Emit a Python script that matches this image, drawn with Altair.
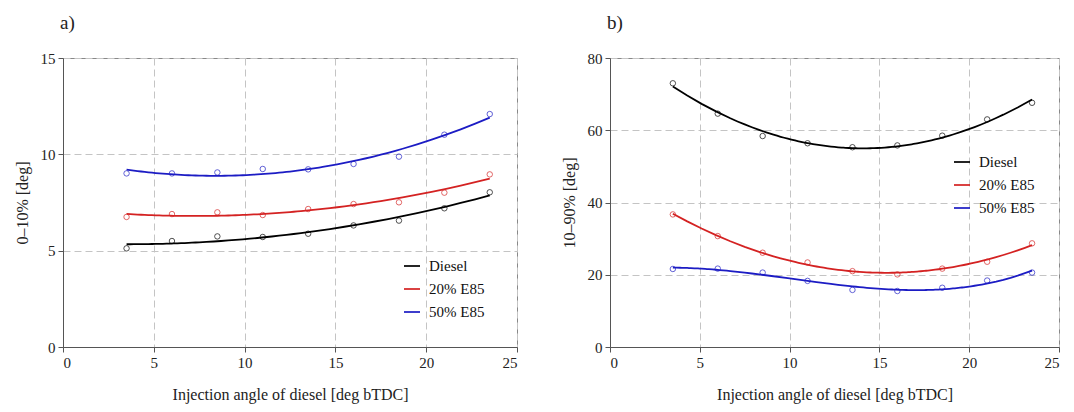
import altair as alt
import pandas as pd

x_vals = [3.5, 6, 8.5, 11, 13.5, 16, 18.5, 21, 23.5]
series_names = ["Diesel", "20% E85", "50% E85"]
series_colors = ["#000000", "#d42222", "#1c1cc4"]

a_diesel = [5.12, 5.50, 5.74, 5.71, 5.88, 6.31, 6.56, 7.20, 8.03]
a_e20 = [6.75, 6.90, 6.99, 6.85, 7.16, 7.42, 7.51, 8.01, 8.96]
a_e50 = [9.01, 9.01, 9.06, 9.24, 9.22, 9.50, 9.88, 11.02, 12.09]

b_diesel = [73.0, 64.6, 58.4, 56.4, 55.3, 55.8, 58.5, 63.0, 67.6]
b_e20 = [36.7, 30.7, 26.1, 23.4, 21.0, 20.1, 21.7, 23.6, 28.7]
b_e50 = [21.6, 21.7, 20.6, 18.3, 15.8, 15.5, 16.4, 18.4, 20.6]

x_ticks = [0, 5, 10, 15, 20, 25]
a_ticks = [0, 5, 10, 15]
b_ticks = [0, 20, 40, 60, 80]

FONT = "Liberation Serif"


def make_df(lists):
    rows = []
    for name, vals in zip(series_names, lists):
        for xv, yv in zip(x_vals, vals):
            rows.append({"x": xv, "y": yv, "series": name})
    return pd.DataFrame(rows)


def panel(lists, label, y_title, y_ticks, orders, leg_x, leg_y, w):
    df = make_df(lists)
    color_scale = alt.Scale(domain=series_names, range=series_colors)
    x_enc = alt.X(
        "x:Q",
        scale=alt.Scale(domain=[0, 25], nice=False),
        axis=alt.Axis(values=x_ticks, title="Injection angle of diesel [deg bTDC]"),
    )
    y_enc = alt.Y(
        "y:Q",
        scale=alt.Scale(domain=[y_ticks[0], y_ticks[-1]], nice=False),
        axis=alt.Axis(values=y_ticks, title=y_title),
    )
    legend = alt.Legend(
        orient="none", legendX=leg_x, legendY=leg_y, title=None,
        symbolType="stroke", symbolSize=256, symbolStrokeWidth=2,
        labelFont=FONT, labelFontSize=15, labelColor="#111",
        rowPadding=6, labelOffset=8, values=series_names,
    )
    base = alt.Chart(df)
    pts = base.mark_point(shape="circle", filled=False, size=30, strokeWidth=0.8, opacity=0.85).encode(
        x=x_enc, y=y_enc, color=alt.Color("series:N", scale=color_scale, legend=legend)
    )
    layers = [pts]
    for s, o in zip(series_names, orders):
        ln = (
            base.transform_filter(alt.datum.series == s)
            .transform_regression("x", "y", method="poly", order=o, groupby=["series"])
            .mark_line(strokeWidth=1.8)
            .encode(x=x_enc, y=y_enc, color=alt.Color("series:N", scale=color_scale, legend=legend))
        )
        layers.append(ln)
    return alt.layer(*layers).properties(
        width=w, height=289,
        title=alt.TitleParams(label, anchor="start", frame="group", font=FONT, fontSize=19,
                              fontWeight="normal", offset=18, color="#222", dx=-3),
    )


pa = panel([a_diesel, a_e20, a_e50], "a)", "0–10% [deg]", a_ticks, [2, 2, 2], 340, 199, 454)
pb = panel([b_diesel, b_e20, b_e50], "b)", "10–90% [deg]", b_ticks, [2, 2, 3], 343, 95, 449)

chart = (
    alt.hconcat(pa, pb, spacing=42)
    .resolve_scale(color="independent")
    .resolve_legend(color="independent")
    .configure_view(stroke="#888", strokeWidth=1)
    .configure_axis(
        grid=True, gridDash=[7, 4], gridColor="#c4c4c4", gridWidth=1,
        domainColor="#555", tickColor="#555", tickSize=5,
        labelFont=FONT, labelFontSize=15, labelColor="#222", labelPadding=3,
        titleFont=FONT, titleFontSize=16, titleFontWeight="normal", titleColor="#222",
    )
    .configure_axisY(titlePadding=10)
    .configure_axisX(titlePadding=16)
)

chart.save("out.html", embed_options={"renderer": "svg", "actions": False})
